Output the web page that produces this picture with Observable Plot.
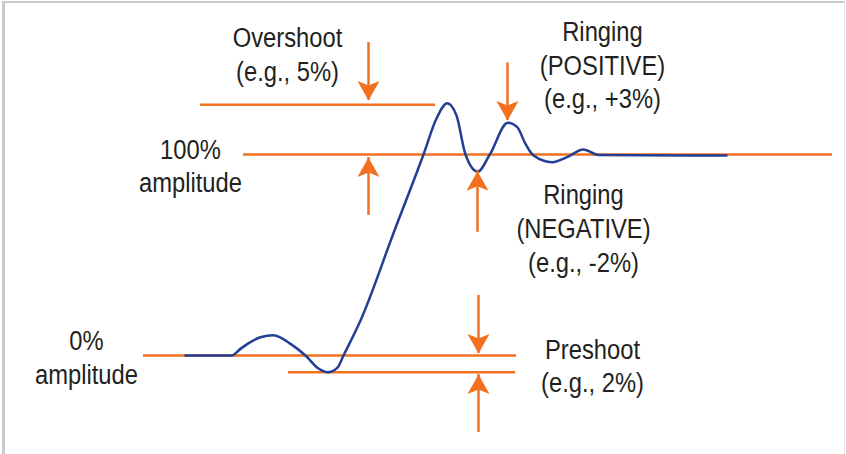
<!DOCTYPE html>
<html>
<head>
<meta charset="utf-8">
<script src="https://cdn.jsdelivr.net/npm/d3@7"></script>
<script src="https://cdn.jsdelivr.net/npm/@observablehq/plot@0.6"></script>
<style>
  html, body { margin: 0; padding: 0; background: #fff; }
  #wrap { position: relative; width: 846px; height: 454px; overflow: hidden; }
  #frame { position: absolute; left: 2px; top: 1px; right: 1px; bottom: -5px;
           border-left: 3px solid #cbcbcb; border-top: 2px solid #cbcbcb; border-right: 1px solid #e6e6e6; pointer-events: none; }
</style>
</head>
<body>
<div id="wrap"><div id="frame"></div></div>
<script>
// Waveform samples: t (time units), a (% amplitude)
const signalT = [18.5, 23.1, 24.0, 24.7, 26.0, 27.3, 29.0, 30.5, 31.8, 32.7, 33.7, 34.3, 36.0, 39.4, 42.3, 43.6, 44.67, 45.6, 46.5, 47.73, 48.93, 50.73, 51.67, 52.5, 53.3, 55.17, 56.7, 58.27, 59.8, 72.6];
const signalA = [0, 0, 3.3, 5.8, 9.1, 10.1, 5.8, 0, -6.5, -8.3, -6.0, 0, 17.4, 62.2, 100, 117.9, 125.5, 119.4, 100, 91.5, 100, 115.8, 113.6, 105.3, 99.5, 96.2, 98.8, 102.5, 99.8, 99.5];

// Reference levels (% amplitude) and their horizontal extents
const levelA  = [0, -8.3, 100, 124.7];
const levelT1 = [14.3, 28.8, 24.3, 20.0];
const levelT2 = [51.6, 51.5, 83.2, 43.5];

// Arrows: x, start level, tip level
const arrowT     = [36.8, 36.8, 50.7, 47.7, 47.8, 47.8];
const arrowStart = [155.7, 69.7, 145.6, 61.3, 29.9, -38.3];
const arrowTip   = [126.9, 98.5, 116.9, 91.7, 1.0, -9.5];

// Labels (one row per text line, positioned at baseline)
const labelText = ["Overshoot", "(e.g., 5%)", "Ringing", "(POSITIVE)", "(e.g., +3%)", "100%", "amplitude", "Ringing", "(NEGATIVE)", "(e.g., -2%)", "0%", "amplitude", "Preshoot", "(e.g., 2%)"];
const labelT    = [28.7, 28.7, 60.2, 60.2, 60.2, 19.0, 19.0, 58.3, 58.3, 58.3, 8.6, 8.6, 59.2, 59.2];
const labelA    = [153.4, 136.6, 156.4, 139.8, 123.1, 98.0, 81.1, 75.5, 58.7, 41.5, 2.8, -14.1, -1.5, -18.4];

const orange = "#f37021";
const blue = "#233f95";

const signal = signalT.map((t, i) => ({t, a: signalA[i]}));
const levels = levelA.map((a, i) => ({a, t1: levelT1[i], t2: levelT2[i]}));
const arrows = arrowT.map((t, i) => ({t, a1: arrowStart[i], a2: arrowTip[i], rot: arrowTip[i] < arrowStart[i] ? 180 : 0}));
const labels = labelText.map((text, i) => ({text, t: labelT[i], a: labelA[i]}));

// Filled arrowhead with notched back; tip at origin, pointing up
const arrowHead = {
  draw(context, size) {
    const r = Math.sqrt(size / Math.PI);
    context.moveTo(0, 0);
    context.lineTo(1.1 * r, 1.95 * r);
    context.lineTo(0, 1.5 * r);
    context.lineTo(-1.1 * r, 1.95 * r);
    context.closePath();
  }
};

const chart = Plot.plot({
  width: 846,
  height: 454,
  margin: 0,
  x: {domain: [0, 84.6], axis: null},
  y: {domain: [-49.25, 176.62], axis: null},
  style: {fontFamily: "'Liberation Sans', Arial, sans-serif", background: "transparent"},
  marks: [
    Plot.ruleY(levels, {y: "a", x1: "t1", x2: "t2", stroke: orange, strokeWidth: 2.5}),
    Plot.line(signal, {x: "t", y: "a", curve: "monotone-x", stroke: blue, strokeWidth: 2.5}),
    Plot.ruleX(arrows, {x: "t", y1: "a1", y2: "a2", stroke: orange, strokeWidth: 2.5}),
    Plot.dot(arrows, {x: "t", y: "a2", rotate: "rot", symbol: arrowHead, r: 10, fill: orange, stroke: "none"}),
    Plot.text(labels, {x: "t", y: "a", text: "text", fontSize: 27, lineAnchor: "bottom", fill: "#231f20"})
  ]
});
document.getElementById("wrap").prepend(chart);

// Emulate a condensed typeface: compress every label uniformly
chart.querySelectorAll("text").forEach((el) => {
  const w = el.getComputedTextLength();
  if (w > 0) {
    el.setAttribute("textLength", (w * 0.88).toFixed(1));
    el.setAttribute("lengthAdjust", "spacingAndGlyphs");
  }
});
</script>
</body>
</html>
